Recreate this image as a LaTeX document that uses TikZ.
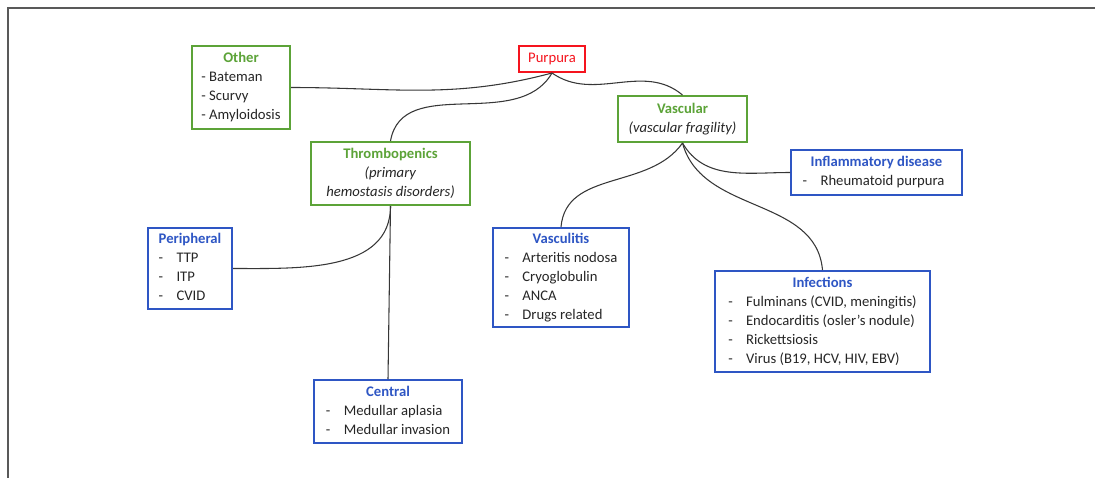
\documentclass[tikz,border=0pt]{standalone}
\usepackage{fontspec}
\setmainfont{Carlito}
\definecolor{boxgreen}{RGB}{92,163,56}
\definecolor{boxblue}{RGB}{46,86,196}
\definecolor{boxred}{RGB}{245,20,30}
\definecolor{textgray}{RGB}{38,38,38}
\definecolor{linegray}{RGB}{55,55,55}

\newcommand{\head}[2]{\textbf{\textcolor{#1}{#2}}}

\tikzset{%
	size/.style 2 args={
		minimum width=#1*0.75pt,
		minimum height=#2*0.75pt,
		inner sep=0pt
	},
	tree box/.style={
		draw, fill=white, line width=1.5pt, text=textgray,
		font=\fontsize{11}{14.25}\selectfont
	},
	redbox/.style={tree box, draw=boxred, text=boxred},
	greenbox/.style={tree box, draw=boxgreen, align=center},
	bluebox/.style={tree box, draw=boxblue},
	link/.style={draw=linegray, line width=0.8pt},
	frame/.style={draw=gray!70!black, line width=1.5pt}
}

\begin{document}
\begin{tikzpicture}[x=0.75pt, y=0.75pt]
\useasboundingbox (0,0) rectangle (1095,-478);
% frame
\draw [frame] (7,-8) -- (1095,-8);
\draw [frame] (8,-8) -- (8,-478);

% root and first level
\node [redbox, size={66}{26}] (purpura) at (552,-59) {Purpura};

\node [greenbox, size={98}{83}] (other) at (241,-87.5)
{\begin{tabular}{@{}l@{}}
\multicolumn{1}{c}{\head{boxgreen}{Other}}\\
- Bateman\\
- Scurvy\\
- Amyloidosis
\end{tabular}};

\node [greenbox, size={159}{63}] (thromb) at (390.5,-173.5)
{\head{boxgreen}{Thrombopenics}\\ \textit{(primary}\\ \textit{hemostasis disorders)}};

\node [greenbox, size={129}{46}] (vascular) at (682.5,-119)
{\head{boxgreen}{Vascular}\\ \textit{(vascular fragility)}};

% second level
\node [bluebox, size={84}{81}] (periph) at (190,-268.5)
{\begin{tabular}{@{}l@{\hspace{10pt}}l@{}}
\multicolumn{2}{@{}l@{}}{\head{boxblue}{Peripheral}}\\
- & TTP\\
- & ITP\\
- & CVID
\end{tabular}};

\node [bluebox, size={148}{63}] (central) at (388,-411.5)
{\begin{tabular}{@{}l@{\hspace{10pt}}l@{}}
\multicolumn{2}{c}{\head{boxblue}{Central}}\\
- & Medullar aplasia\\
- & Medullar invasion
\end{tabular}};

\node [bluebox, size={171}{45}] (inflam) at (876.5,-172.5)
{\begin{tabular}{@{}l@{\hspace{10pt}}l@{}}
\multicolumn{2}{c}{\head{boxblue}{Inflammatory disease}}\\
- & Rheumatoid purpura
\end{tabular}};

\node [bluebox, size={136}{99}] (vasculitis) at (561,-277.5)
{\begin{tabular}{@{}l@{\hspace{10pt}}l@{}}
\multicolumn{2}{c}{\head{boxblue}{Vasculitis}}\\
- & Arteritis nodosa\\
- & Cryoglobulin\\
- & ANCA\\
- & Drugs related
\end{tabular}};

\node [bluebox, size={215}{101}] (infections) at (822.5,-321.5)
{\begin{tabular}{@{}l@{\hspace{10pt}}l@{}}
\multicolumn{2}{c}{\head{boxblue}{Infections}}\\
- & Fulminans (CVID, meningitis)\\
- & Endocarditis (osler’s nodule)\\
- & Rickettsiosis\\
- & Virus (B19, HCV, HIV, EBV)
\end{tabular}};

% links
\foreach \a/\b/\o/\i in {purpura.south/other.east/195/0,
	purpura.south/thromb.north/240/80,
	purpura.south/vascular.north/-35/140,
	vascular.south/inflam.west/-60/180,
	vascular.south/vasculitis.north/235/85,
	vascular.south/infections.north/-75/95,
	thromb.south/periph.east/-90/0}
\draw [link] (\a) to [out=\o, in=\i] (\b);

\draw [link] (thromb.south) -- (central.north);

\end{tikzpicture}
\end{document}
